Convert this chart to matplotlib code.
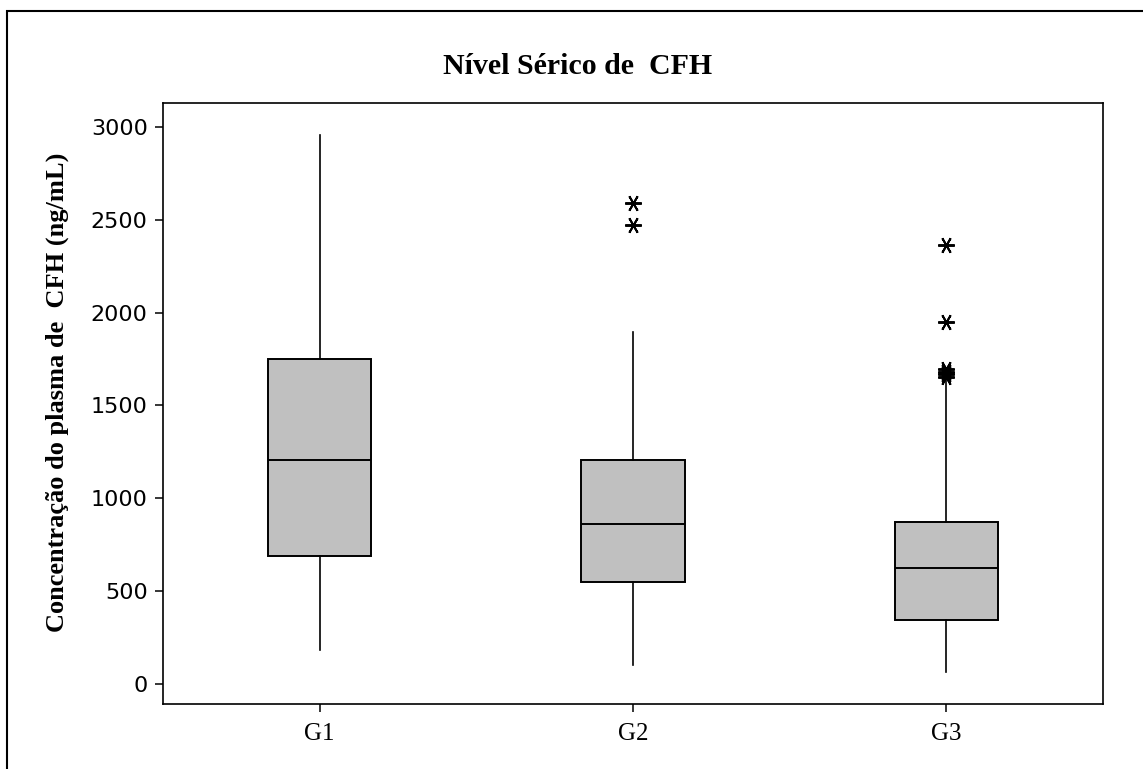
import matplotlib
matplotlib.use('Agg')
import matplotlib.pyplot as plt
from matplotlib.patches import Rectangle

# box plot summary (ng/mL)
groups = ['G1', 'G2', 'G3']
whisker_low = [183, 100, 65]
quartile_1 = [690, 549, 345]
medians = [1205, 862, 625]
quartile_3 = [1748, 1206, 872]
whisker_high = [2955, 1896, 1640]
outliers = [
    [],
    [2472, 2590],
    [1655, 1668, 1680, 1695, 1950, 2364],
]
y_ticks = [0, 500, 1000, 1500, 2000, 2500, 3000]

title_text = 'Nível Sérico de  CFH'
y_label_text = 'Concentração do plasma de  CFH (ng/mL)'
serif_font = 'Liberation Serif'
tick_font = 'DejaVu Sans'


def build_stats():
    stats = []
    for i, name in enumerate(groups):
        stats.append({
            'label': name,
            'whislo': whisker_low[i],
            'q1': quartile_1[i],
            'med': medians[i],
            'q3': quartile_3[i],
            'whishi': whisker_high[i],
            'fliers': outliers[i],
        })
    return stats


fig = plt.figure(figsize=(11.43, 7.69), dpi=100)
ax = fig.add_axes([163 / 1143, 1 - 704 / 769, 940 / 1143, 601 / 769])

ax.bxp(build_stats(), positions=[1, 2, 3], widths=0.33, patch_artist=True,
       showcaps=False,
       boxprops=dict(facecolor='#c0c0c0', edgecolor='black', linewidth=1.4),
       medianprops=dict(color='black', linewidth=1.4),
       whiskerprops=dict(color='black', linewidth=1.2),
       flierprops=dict(marker=(6, 2, 30), markersize=12, markeredgecolor='black',
                       markerfacecolor='black', markeredgewidth=1.4, linestyle='none'))

ax.set_xlim(0.5, 3.5)
ax.set_ylim(-108, 3129)
ax.set_yticks(y_ticks)
ax.set_yticklabels([str(v) for v in y_ticks], fontfamily=tick_font, fontsize=16)
ax.set_xticks([1, 2, 3])
ax.set_xticklabels(groups, fontfamily=serif_font, fontsize=18)
ax.tick_params(axis='both', direction='out', length=6, width=1.1, colors='black')
ax.tick_params(axis='x', pad=8)
ax.tick_params(axis='y', pad=5)
for spine in ax.spines.values():
    spine.set_linewidth(1.2)

fig.text(578 / 1143, 1 - 66 / 769, title_text, ha='center', va='center',
         fontfamily=serif_font, fontweight='bold', fontsize=21.5)
fig.text(57 / 1143, 1 - 392 / 769, y_label_text, ha='center', va='center',
         rotation=90, fontfamily=serif_font, fontweight='bold', fontsize=19)

# outer frame around the graph, cut off on the right and bottom
fig.patches.append(Rectangle((7 / 1143, -0.05), 1.2, 1 - 11 / 769 + 0.05,
                             transform=fig.transFigure, fill=False,
                             edgecolor='black', linewidth=1.5))

fig.savefig('out.png', dpi=100)
